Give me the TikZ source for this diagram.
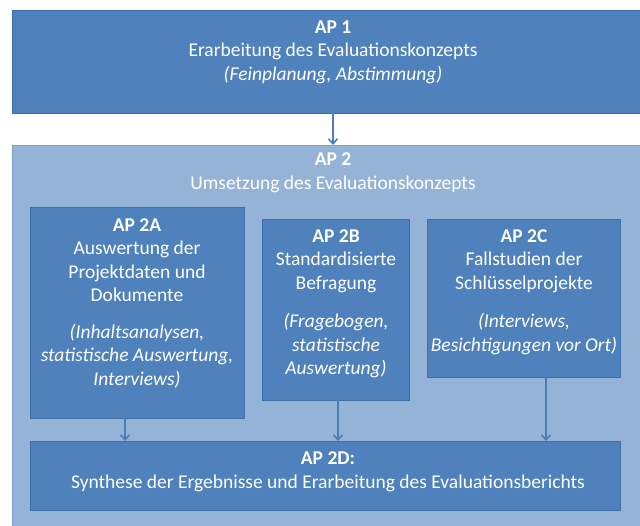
\documentclass[tikz,border=0pt]{standalone}
\usepackage{fontspec}
\setmainfont{Carlito}
\usetikzlibrary{arrows.meta}
\definecolor{boxblue}{HTML}{4F81BD}
\definecolor{boxedge}{HTML}{3F6FA8}
\definecolor{bgblue}{HTML}{95B3D7}
\definecolor{bgedge}{HTML}{7EA2CE}
\definecolor{arrowblue}{HTML}{4A7EBB}
\tikzset{
  apbox/.style={fill=boxblue, draw=boxedge, line width=0.6pt},
  aptext/.style={text=white, align=center, inner sep=0pt, font=\fontsize{19.5}{23.5}\selectfont},
  flow/.style={draw=arrowblue, line width=1.6pt, -{Straight Barb[length=5pt,width=9pt]}}
}
\begin{document}
\begin{tikzpicture}[x=1pt,y=-1pt]
\useasboundingbox (0,0) rectangle (640,525);
\fill[white] (0,0) rectangle (640,525);
% AP1
\draw[apbox] (12,10) rectangle (642,113);
\node[aptext] (ap1) at (333,52) {\textbf{AP 1}\\Erarbeitung des Evaluationskonzepts\\\textit{(Feinplanung, Abstimmung)}};
\coordinate (ap1b) at (333,113);
% AP2 background
\draw[fill=bgblue, draw=bgedge, line width=0.8pt] (12,145) rectangle (642,527);
\coordinate (ap2t) at (333,145);
\node[aptext] (ap2) at (333,173) {\textbf{AP 2}\\Umsetzung des Evaluationskonzepts};
\draw[flow] (ap1b) -- (ap2t);
% AP2A
\draw[apbox] (30,207) rectangle (244,418);
\node[aptext] (a2a) at (137,260) {\textbf{AP 2A}\\Auswertung der\\Projektdaten und\\Dokumente};
\node[aptext] (a2ai) at (137,356) {\textit{(Inhaltsanalysen,}\\\textit{statistische Auswertung,}\\\textit{Interviews)}};
% AP2B
\draw[apbox] (262,219) rectangle (409,400);
\node[aptext] (a2b) at (336,261) {\textbf{AP 2B}\\Standardisierte\\Befragung};
\node[aptext] (a2bi) at (336,346) {\textit{(Fragebogen,}\\\textit{statistische}\\\textit{Auswertung)}};
% AP2C
\draw[apbox] (427,219) rectangle (620,377);
\node[aptext] (a2c) at (524,261) {\textbf{AP 2C}\\Fallstudien der\\Schlüsselprojekte};
\node[aptext] (a2ci) at (524,334) {\textit{(Interviews,}\\\textit{Besichtigungen vor Ort)}};
% AP2D
\draw[apbox] (30,441) rectangle (620,510);
\node[aptext] (a2d) at (328,472) {\textbf{AP 2D:}\\Synthese der Ergebnisse und Erarbeitung des Evaluationsberichts};
% arrows
\draw[flow] (125,418) -- (125,441);
\draw[flow] (338,400) -- (338,441);
\draw[flow] (546,377) -- (546,441);
\end{tikzpicture}
\end{document}
